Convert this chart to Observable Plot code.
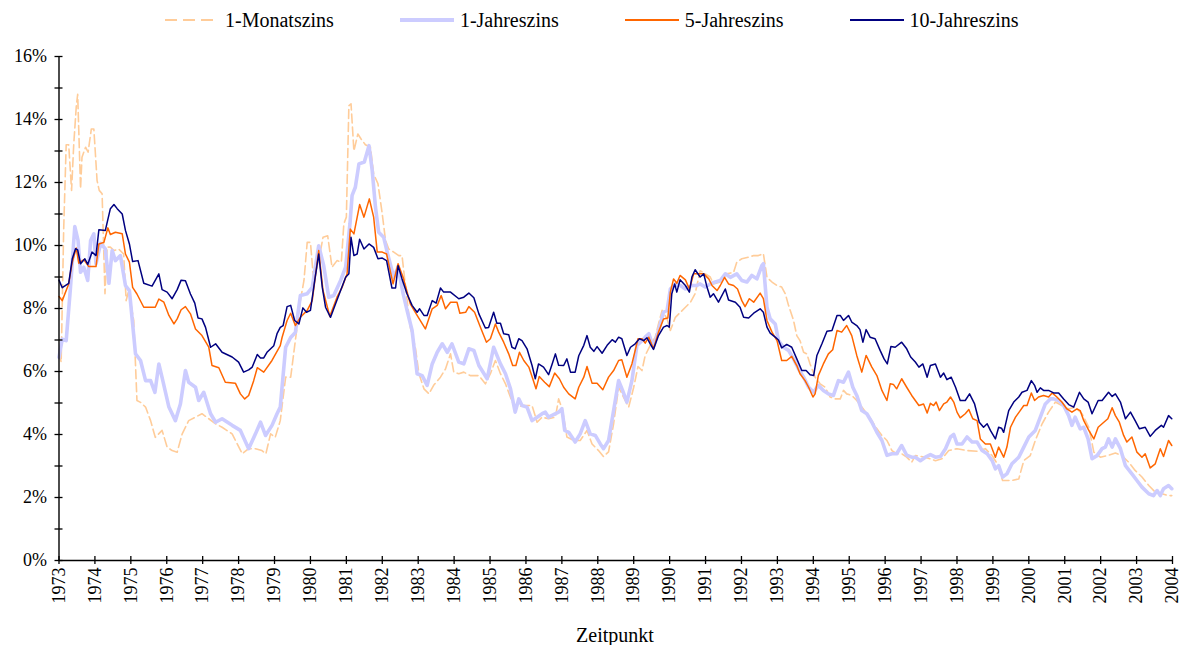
<!DOCTYPE html>
<html>
<head>
<meta charset="utf-8">
<script src="https://cdn.jsdelivr.net/npm/d3@7"></script>
<script src="https://cdn.jsdelivr.net/npm/@observablehq/plot@0.6"></script>
<style>
  html, body { margin: 0; padding: 0; background: #fff; }
  body { width: 1185px; height: 645px; overflow: hidden; font-family: "Liberation Serif", "Times New Roman", serif; color: #000; }
  #legend { height: 40px; display: flex; align-items: center; padding-left: 165px; gap: 66px; font-size: 20px; }
  .item { display: flex; align-items: center; gap: 6px; white-space: nowrap; }
  .item svg { display: block; }
  #xlabel { height: 40px; line-height: 40px; text-align: center; font-size: 20px; padding-left: 58px; padding-right: 13px; }
</style>
</head>
<body>
<div id="legend"></div>
<div id="chart"></div>
<div id="xlabel">Zeitpunkt</div>
<script>
// ---- data: [decimal year, percent] ----
const monat1 = [
[1973.0,6.6],[1973.06,6.3],[1973.13,10.5],[1973.2,13.2],[1973.27,13.2],[1973.35,11.75],[1973.41,13.2],[1973.48,14.4],[1973.52,14.8],[1973.6,11.8],[1973.64,12.8],[1973.74,13.12],[1973.81,12.96],[1973.9,13.7],[1973.97,13.7],[1974.06,12.06],[1974.12,11.75],[1974.2,11.64],[1974.28,8.47],[1974.34,9.95],[1974.43,9.95],[1974.53,9.84],[1974.66,9.89],[1974.8,9.73],[1974.87,8.25],[1974.94,8.57],[1975.08,7.62],[1975.17,5.08],[1975.27,5.02],[1975.41,4.87],[1975.55,4.44],[1975.68,3.91],[1975.87,4.13],[1976.01,3.6],[1976.15,3.49],[1976.29,3.44],[1976.43,4.02],[1976.61,4.44],[1976.8,4.55],[1976.98,4.66],[1977.17,4.5],[1977.36,4.34],[1977.54,4.23],[1977.82,4.02],[1978.1,3.39],[1978.28,3.55],[1978.47,3.55],[1978.65,3.49],[1978.76,3.39],[1978.89,4.02],[1979.02,3.91],[1979.16,4.44],
[1979.31,5.82],[1979.45,5.82],[1979.58,6.98],[1979.72,8.25],[1979.82,8.89],[1979.91,10.1],[1980.0,10.1],[1980.09,8.89],[1980.23,9.52],[1980.35,10.26],[1980.48,10.31],[1980.6,9.31],[1980.74,9.52],[1980.86,9.47],[1980.93,10.69],[1981.0,10.9],[1981.07,14.44],[1981.13,14.5],[1981.21,13.0],[1981.32,13.54],[1981.41,13.38],[1981.53,13.2],[1981.67,13.12],[1981.76,12.27],[1981.88,11.96],[1982.0,11.0],[1982.09,10.16],[1982.18,9.89],[1982.32,9.79],[1982.46,9.68],[1982.55,9.68],[1982.65,8.67],[1982.78,7.41],[1982.92,6.77],[1983.02,5.93],[1983.16,5.45],[1983.3,5.29],[1983.43,5.56],[1983.62,5.82],[1983.76,6.08],[1983.9,6.56],[1983.99,5.98],[1984.13,5.93],[1984.27,5.98],[1984.45,5.87],[1984.69,5.87],[1984.87,5.61],[1985.01,5.93],[1985.15,6.35],
[1985.29,5.93],[1985.43,5.61],[1985.57,5.18],[1985.7,4.82],[1985.89,4.92],[1986.03,4.92],[1986.17,4.92],[1986.31,4.39],[1986.45,4.55],[1986.63,4.5],[1986.82,4.55],[1986.91,5.13],[1987.02,4.76],[1987.14,3.92],[1987.33,3.81],[1987.51,3.81],[1987.7,4.13],[1987.84,3.7],[1988.02,3.49],[1988.16,3.3],[1988.3,3.45],[1988.44,4.34],[1988.58,5.5],[1988.72,5.18],[1988.86,4.87],[1989.0,5.5],[1989.12,6.16],[1989.23,6.03],[1989.32,6.51],[1989.46,6.83],[1989.6,7.09],[1989.69,7.51],[1989.79,7.94],[1989.93,7.67],[1990.02,7.3],[1990.16,7.72],[1990.3,7.88],[1990.44,8.04],[1990.58,8.2],[1990.71,8.47],[1990.85,9.2],[1990.99,9.1],[1991.13,9.0],
[1991.22,8.78],[1991.41,8.84],[1991.59,9.1],[1991.78,9.15],[1991.87,9.47],[1992.01,9.58],[1992.2,9.63],[1992.34,9.68],[1992.47,9.68],[1992.61,9.74],[1992.71,8.99],[1992.85,8.84],[1992.99,8.73],[1993.12,8.68],[1993.22,8.47],[1993.31,8.1],[1993.45,7.62],[1993.54,7.14],[1993.63,6.98],[1993.73,6.61],[1993.82,6.56],[1993.91,6.24],[1994.05,5.82],[1994.19,5.61],[1994.33,5.5],[1994.47,5.19],[1994.61,5.13],[1994.75,5.13],[1994.84,5.4],[1994.93,5.29],[1995.07,5.24],[1995.21,5.08],[1995.35,4.87],[1995.49,4.66],[1995.63,4.44],[1995.77,4.18],[1995.91,3.97],[1996.05,3.81],[1996.19,3.49],[1996.32,3.39],[1996.46,3.39],[1996.6,3.28],[1996.74,3.12],
[1996.84,3.33],[1997.12,3.28],[1997.4,3.17],[1997.58,3.23],[1997.77,3.49],[1998.0,3.55],[1998.28,3.49],[1998.56,3.47],[1998.79,3.55],[1998.98,3.33],[1999.12,3.07],[1999.27,2.54],[1999.53,2.54],[1999.72,2.59],[1999.86,3.17],[2000.04,3.33],[2000.18,3.81],[2000.37,4.34],[2000.55,4.71],[2000.74,5.03],[2000.92,4.92],[2001.11,4.81],[2001.29,4.87],[2001.48,4.66],[2001.67,4.23],[2001.81,3.44],[2001.99,3.28],[2002.18,3.33],[2002.41,3.41],[2002.59,3.33],[2002.78,3.12],[2002.96,2.86],[2003.15,2.65],[2003.34,2.38],[2003.52,2.17],[2003.71,2.12],[2003.89,2.06],[2003.98,2.06]
];
const jahr1 = [
[1973.0,6.45],[1973.09,7.03],[1973.2,6.98],[1973.32,8.67],[1973.44,10.6],[1973.53,10.16],[1973.6,9.15],[1973.69,9.31],[1973.8,8.89],[1973.88,10.16],[1973.97,10.37],[1974.03,9.42],[1974.16,10.07],[1974.29,9.89],[1974.39,8.8],[1974.48,9.84],[1974.57,9.52],[1974.71,9.68],[1974.85,8.73],[1974.96,8.57],[1975.13,6.56],[1975.27,6.35],[1975.41,5.71],[1975.55,5.71],[1975.67,5.34],[1975.78,6.24],[1975.89,5.71],[1976.06,4.87],[1976.24,4.44],[1976.38,4.97],[1976.52,6.03],[1976.61,5.66],[1976.8,5.5],[1976.89,5.08],[1977.03,5.34],[1977.22,4.66],[1977.36,4.39],[1977.54,4.5],[1977.82,4.29],[1978.05,4.13],[1978.28,3.55],[1978.47,4.02],[1978.61,4.39],[1978.75,3.97],[1978.93,4.29],[1979.07,4.66],[1979.16,4.87],
[1979.31,6.77],[1979.45,7.08],[1979.58,7.24],[1979.72,8.41],[1979.91,8.47],[1980.05,8.67],[1980.23,9.99],[1980.37,9.36],[1980.51,8.36],[1980.65,8.41],[1980.84,8.89],[1980.98,9.31],[1981.1,10.69],[1981.16,11.59],[1981.25,11.85],[1981.35,12.59],[1981.5,12.65],[1981.63,13.17],[1981.72,12.38],[1981.81,11.22],[1981.9,10.42],[1982.04,10.26],[1982.15,9.73],[1982.32,8.99],[1982.44,9.31],[1982.58,8.47],[1982.69,7.94],[1982.83,7.3],[1982.97,5.93],[1983.11,5.87],[1983.25,5.56],[1983.39,6.24],[1983.53,6.61],[1983.67,6.88],[1983.81,6.61],[1983.94,6.88],[1984.13,6.3],[1984.27,6.24],[1984.41,6.72],[1984.55,6.67],[1984.69,6.19],[1984.92,5.77],[1985.1,6.77],
[1985.29,6.24],[1985.43,5.93],[1985.57,5.45],[1985.7,4.71],[1985.8,5.13],[1985.89,4.92],[1986.03,4.87],[1986.17,4.44],[1986.31,4.55],[1986.45,4.66],[1986.54,4.71],[1986.63,4.55],[1986.77,4.63],[1986.91,4.71],[1987.0,4.82],[1987.08,4.13],[1987.19,4.07],[1987.37,3.76],[1987.51,4.02],[1987.65,4.44],[1987.79,4.02],[1987.93,3.97],[1988.07,3.7],[1988.16,3.55],[1988.3,3.81],[1988.44,4.76],[1988.58,5.71],[1988.69,5.4],[1988.81,5.03],[1988.95,5.71],[1989.09,6.83],[1989.23,6.98],[1989.32,7.09],[1989.42,7.2],[1989.55,6.77],[1989.69,7.3],[1989.83,7.88],[1989.93,7.94],[1990.02,8.62],[1990.16,8.78],[1990.3,8.73],[1990.44,8.62],[1990.62,8.73],[1990.76,8.73],[1990.85,8.78],[1990.99,8.68],[1991.13,8.78],
[1991.27,8.84],[1991.41,8.89],[1991.55,9.1],[1991.69,8.99],[1991.87,9.1],[1992.01,8.89],[1992.15,8.84],[1992.29,9.05],[1992.43,8.94],[1992.57,9.37],[1992.61,9.42],[1992.71,8.04],[1992.8,7.67],[1992.94,7.51],[1993.03,6.98],[1993.17,6.77],[1993.31,6.67],[1993.45,6.4],[1993.59,6.08],[1993.73,5.82],[1993.87,5.5],[1994.01,5.34],[1994.14,5.56],[1994.28,5.4],[1994.42,5.29],[1994.56,5.24],[1994.7,5.71],[1994.84,5.66],[1994.98,5.98],[1995.1,5.5],[1995.21,5.24],[1995.35,4.76],[1995.49,4.66],[1995.63,4.39],[1995.77,4.07],[1995.91,3.81],[1996.05,3.34],[1996.19,3.39],[1996.32,3.39],[1996.46,3.65],[1996.6,3.34],[1996.74,3.28],
[1996.84,3.28],[1996.98,3.17],[1997.12,3.28],[1997.26,3.36],[1997.4,3.28],[1997.54,3.3],[1997.68,3.55],[1997.82,3.92],[1997.91,4.0],[1998.0,3.7],[1998.14,3.7],[1998.28,3.92],[1998.42,3.76],[1998.56,3.76],[1998.7,3.49],[1998.84,3.39],[1998.98,3.17],[1999.07,2.91],[1999.16,3.01],[1999.27,2.65],[1999.39,2.75],[1999.53,3.07],[1999.72,3.28],[1999.86,3.6],[2000.0,3.92],[2000.18,4.13],[2000.32,4.55],[2000.46,4.97],[2000.6,5.13],[2000.69,5.13],[2000.83,5.08],[2000.97,4.92],[2001.11,4.6],[2001.2,4.29],[2001.29,4.55],[2001.43,4.18],[2001.53,4.23],[2001.65,3.86],[2001.76,3.23],[2001.9,3.33],[2002.04,3.55],[2002.13,3.6],[2002.22,3.86],[2002.32,3.6],[2002.41,3.86],[2002.55,3.55],[2002.69,3.01],[2002.87,2.75],[2003.01,2.54],[2003.15,2.33],[2003.34,2.12],[2003.47,2.06],[2003.57,2.22],[2003.66,2.06],[2003.75,2.28],[2003.89,2.38],[2003.98,2.28]
];
const jahr5 = [
[1973.0,8.38],[1973.09,8.25],[1973.27,8.78],[1973.37,9.47],[1973.48,9.92],[1973.55,9.44],[1973.69,9.55],[1973.83,9.33],[1974.03,9.33],[1974.11,10.05],[1974.25,10.1],[1974.36,10.56],[1974.43,10.35],[1974.57,10.42],[1974.76,10.37],[1974.85,9.73],[1974.96,9.47],[1975.05,8.67],[1975.17,8.46],[1975.36,8.04],[1975.68,8.04],[1975.78,8.3],[1975.92,8.2],[1976.06,7.78],[1976.2,7.51],[1976.29,7.67],[1976.4,7.96],[1976.52,8.06],[1976.66,7.83],[1976.8,7.35],[1976.98,7.14],[1977.17,6.77],[1977.26,6.19],[1977.45,6.12],[1977.63,5.66],[1977.91,5.63],[1978.05,5.29],[1978.17,5.13],[1978.28,5.24],[1978.42,5.71],[1978.52,6.12],[1978.7,5.98],[1978.93,6.35],[1979.16,6.82],
[1979.21,7.08],[1979.35,7.62],[1979.45,7.85],[1979.58,7.46],[1979.72,7.72],[1979.91,7.94],[1980.05,8.25],[1980.23,9.84],[1980.35,8.57],[1980.54,7.75],[1980.74,8.36],[1980.88,8.67],[1981.02,9.1],[1981.11,10.52],[1981.21,10.37],[1981.37,11.3],[1981.49,10.9],[1981.64,11.48],[1981.76,10.9],[1981.86,9.79],[1982.0,9.79],[1982.12,9.73],[1982.3,8.78],[1982.44,9.42],[1982.58,8.99],[1982.78,8.15],[1982.97,7.78],[1983.2,7.35],[1983.39,7.99],[1983.53,8.1],[1983.64,8.41],[1983.76,7.99],[1983.9,8.2],[1984.08,8.2],[1984.16,7.85],[1984.32,7.88],[1984.41,8.06],[1984.57,7.88],[1984.73,7.41],[1984.9,6.93],[1985.01,7.04],[1985.15,7.51],
[1985.24,7.25],[1985.38,6.93],[1985.52,6.56],[1985.63,6.19],[1985.72,6.19],[1985.82,6.61],[1985.94,6.35],[1986.08,6.14],[1986.19,5.77],[1986.28,5.45],[1986.37,5.84],[1986.52,5.66],[1986.65,5.52],[1986.8,5.95],[1986.93,5.77],[1987.05,5.5],[1987.19,5.29],[1987.37,5.13],[1987.47,5.5],[1987.61,5.82],[1987.7,6.16],[1987.84,5.63],[1987.98,5.63],[1988.14,5.42],[1988.3,5.82],[1988.44,6.03],[1988.58,6.35],[1988.67,6.37],[1988.81,5.82],[1988.95,6.24],[1989.12,7.04],[1989.23,7.04],[1989.32,6.9],[1989.42,7.09],[1989.55,6.72],[1989.69,7.25],[1989.83,7.67],[1989.95,7.7],[1990.02,8.52],[1990.11,8.94],[1990.2,8.8],[1990.29,9.05],[1990.44,8.91],[1990.55,8.62],[1990.67,9.1],[1990.81,9.1],[1990.95,9.1],[1991.09,8.94],
[1991.18,8.73],[1991.32,8.57],[1991.41,8.73],[1991.53,8.99],[1991.64,8.78],[1991.78,8.73],[1991.89,8.62],[1992.01,8.25],[1992.1,8.06],[1992.22,8.31],[1992.34,8.2],[1992.52,8.49],[1992.61,8.31],[1992.71,7.62],[1992.85,7.25],[1992.99,6.98],[1993.12,6.35],[1993.26,6.35],[1993.4,6.48],[1993.54,6.19],[1993.63,5.93],[1993.77,5.71],[1993.87,5.5],[1993.99,5.19],[1994.05,5.29],[1994.14,5.87],[1994.28,6.24],[1994.42,6.56],[1994.54,6.69],[1994.66,7.3],[1994.79,7.25],[1994.93,7.46],[1995.07,7.14],[1995.21,6.51],[1995.35,5.98],[1995.47,6.51],[1995.63,6.14],[1995.77,5.87],[1995.91,5.4],[1996.05,5.08],[1996.14,5.61],[1996.23,5.59],[1996.32,5.45],[1996.46,5.77],[1996.6,5.5],[1996.74,5.24],
[1996.84,5.08],[1996.94,4.92],[1997.07,4.97],[1997.17,4.68],[1997.26,4.99],[1997.35,4.92],[1997.42,5.03],[1997.51,4.76],[1997.63,4.97],[1997.72,5.03],[1997.82,5.19],[1997.91,5.03],[1998.0,4.71],[1998.09,4.53],[1998.23,4.66],[1998.33,4.79],[1998.44,4.5],[1998.56,4.44],[1998.65,3.86],[1998.79,3.7],[1998.93,3.7],[1999.07,3.28],[1999.16,3.6],[1999.3,3.28],[1999.39,3.6],[1999.49,4.23],[1999.63,4.55],[1999.76,4.76],[1999.86,4.92],[1999.95,4.92],[2000.07,5.32],[2000.16,5.08],[2000.27,5.19],[2000.41,5.24],[2000.55,5.19],[2000.65,5.32],[2000.78,5.19],[2000.92,5.03],[2001.06,4.81],[2001.2,4.71],[2001.34,4.81],[2001.43,4.76],[2001.53,4.44],[2001.67,4.13],[2001.81,3.86],[2001.93,4.23],[2002.04,4.34],[2002.2,4.5],[2002.32,4.85],[2002.41,4.6],[2002.52,4.39],[2002.64,3.97],[2002.73,3.76],[2002.87,3.92],[2003.01,3.44],[2003.15,3.28],[2003.24,3.39],[2003.38,2.94],[2003.52,3.07],[2003.66,3.55],[2003.75,3.3],[2003.89,3.81],[2003.98,3.65]
];
const jahr10 = [
[1973.0,8.9],[1973.09,8.66],[1973.27,8.8],[1973.37,9.58],[1973.46,9.9],[1973.52,9.86],[1973.6,9.42],[1973.72,9.58],[1973.8,9.4],[1973.92,9.79],[1974.03,9.68],[1974.11,10.5],[1974.29,10.48],[1974.43,11.17],[1974.53,11.3],[1974.62,11.17],[1974.76,11.0],[1974.85,10.48],[1974.96,10.05],[1975.05,9.49],[1975.2,9.52],[1975.36,8.8],[1975.59,8.71],[1975.78,9.1],[1975.87,8.6],[1976.01,8.52],[1976.15,8.31],[1976.29,8.6],[1976.4,8.9],[1976.52,8.88],[1976.66,8.46],[1976.78,8.17],[1976.87,7.7],[1976.98,7.67],[1977.08,7.4],[1977.22,6.77],[1977.36,6.88],[1977.54,6.61],[1977.82,6.46],[1978.0,6.3],[1978.14,5.98],[1978.28,6.05],[1978.38,6.14],[1978.52,6.54],[1978.61,6.43],[1978.7,6.43],[1978.79,6.61],[1978.98,6.82],[1979.07,7.2],[1979.16,7.4],
[1979.24,7.46],[1979.35,8.06],[1979.45,8.1],[1979.56,7.62],[1979.68,7.51],[1979.79,8.02],[1979.89,7.88],[1980.0,7.94],[1980.12,8.89],[1980.23,9.73],[1980.33,8.67],[1980.42,8.04],[1980.56,7.72],[1980.7,8.15],[1980.84,8.57],[1980.98,8.99],[1981.07,9.1],[1981.13,10.26],[1981.21,9.68],[1981.3,9.73],[1981.37,10.2],[1981.49,9.89],[1981.63,10.05],[1981.76,9.94],[1981.88,9.58],[1982.0,9.6],[1982.12,9.52],[1982.27,8.65],[1982.37,8.65],[1982.44,9.36],[1982.55,8.94],[1982.69,8.46],[1982.83,8.1],[1982.97,7.88],[1983.04,7.99],[1983.16,7.78],[1983.25,7.78],[1983.39,8.25],[1983.5,8.17],[1983.62,8.65],[1983.71,8.52],[1983.9,8.52],[1984.13,8.31],[1984.27,8.36],[1984.41,8.49],[1984.55,8.34],[1984.69,7.83],[1984.87,7.38],[1984.96,7.4],[1985.1,7.88],
[1985.19,7.53],[1985.29,7.53],[1985.38,7.2],[1985.52,7.17],[1985.61,6.77],[1985.7,6.72],[1985.8,7.04],[1985.89,6.98],[1986.03,6.72],[1986.17,6.19],[1986.26,5.77],[1986.35,6.24],[1986.49,6.14],[1986.63,5.9],[1986.73,6.24],[1986.82,6.56],[1986.91,6.2],[1987.05,6.19],[1987.14,6.4],[1987.24,5.98],[1987.37,5.98],[1987.47,6.5],[1987.61,6.83],[1987.7,7.14],[1987.79,6.77],[1987.89,6.64],[1987.98,6.79],[1988.12,6.58],[1988.26,6.83],[1988.4,7.01],[1988.49,6.93],[1988.58,7.09],[1988.67,7.04],[1988.81,6.51],[1988.91,6.77],[1989.04,6.88],[1989.16,7.04],[1989.28,6.98],[1989.37,7.07],[1989.46,6.88],[1989.55,6.7],[1989.69,7.14],[1989.83,7.41],[1989.93,7.46],[1989.99,7.41],[1990.06,8.47],[1990.14,8.78],[1990.2,8.52],[1990.29,8.91],[1990.44,8.73],[1990.55,8.52],[1990.62,9.0],[1990.71,9.23],[1990.85,9.0],[1990.95,9.1],[1991.04,8.68],[1991.13,8.36],
[1991.22,8.47],[1991.36,8.2],[1991.55,8.62],[1991.64,8.27],[1991.83,8.2],[1991.96,8.04],[1992.06,7.72],[1992.2,7.7],[1992.34,7.85],[1992.52,7.99],[1992.61,7.88],[1992.71,7.41],[1992.8,7.22],[1992.94,7.09],[1993.03,7.0],[1993.12,6.75],[1993.26,6.86],[1993.4,6.77],[1993.54,6.4],[1993.68,6.03],[1993.8,6.03],[1993.91,5.9],[1994.01,5.87],[1994.1,6.51],[1994.24,6.88],[1994.38,7.28],[1994.52,7.3],[1994.66,7.78],[1994.75,7.78],[1994.84,7.62],[1994.98,7.78],[1995.07,7.57],[1995.21,7.46],[1995.3,7.33],[1995.38,6.93],[1995.47,7.33],[1995.58,7.09],[1995.72,7.04],[1995.86,6.67],[1995.97,6.4],[1996.06,6.24],[1996.16,6.79],[1996.28,6.77],[1996.46,6.93],[1996.6,6.72],[1996.71,6.46],
[1996.84,6.3],[1996.94,6.14],[1997.05,6.24],[1997.17,5.82],[1997.26,6.19],[1997.4,6.24],[1997.54,5.82],[1997.63,5.95],[1997.72,5.74],[1997.84,5.82],[1997.96,5.5],[1998.09,5.08],[1998.23,5.08],[1998.35,5.29],[1998.49,4.97],[1998.62,4.39],[1998.74,4.23],[1998.84,4.34],[1998.93,4.13],[1999.07,3.86],[1999.16,4.23],[1999.24,4.2],[1999.3,4.07],[1999.44,4.76],[1999.58,5.03],[1999.72,5.19],[1999.81,5.34],[1999.95,5.4],[2000.07,5.71],[2000.16,5.56],[2000.23,5.34],[2000.32,5.48],[2000.41,5.4],[2000.55,5.4],[2000.69,5.32],[2000.83,5.32],[2000.97,5.13],[2001.11,4.95],[2001.25,4.87],[2001.41,5.34],[2001.53,5.13],[2001.65,5.03],[2001.76,4.66],[2001.93,5.08],[2002.04,5.08],[2002.22,5.34],[2002.32,5.21],[2002.41,5.29],[2002.55,5.03],[2002.69,4.5],[2002.83,4.71],[2002.96,4.44],[2003.08,4.18],[2003.24,4.23],[2003.38,3.94],[2003.52,4.13],[2003.69,4.29],[2003.75,4.23],[2003.89,4.6],[2003.98,4.5]
];
const yearTicks = d3.range(1973, 2005);
const pctTicks = d3.range(0, 17, 1);
const pctLabels = d3.range(0, 17, 2);
const seriesNames = ["1-Monatszins", "1-Jahreszins", "5-Jahreszins", "10-Jahreszins"];

// ---- styles ----
const styles = {
  "1-Monatszins": { stroke: "#FFCC99", strokeWidth: 1.6, dash: "9,4" },
  "1-Jahreszins": { stroke: "#CCCCFF", strokeWidth: 3.6, dash: null },
  "5-Jahreszins": { stroke: "#FF6600", strokeWidth: 1.5, dash: null },
  "10-Jahreszins": { stroke: "#000080", strokeWidth: 1.5, dash: null }
};
const seriesData = [monat1, jahr1, jahr5, jahr10];

// legend
const legend = document.getElementById("legend");
seriesNames.forEach((name) => {
  const s = styles[name];
  const item = document.createElement("div");
  item.className = "item";
  item.innerHTML = `<svg width="54" height="10"><line x1="0" y1="5" x2="54" y2="5" stroke="${s.stroke}" stroke-width="${Math.min(s.strokeWidth + 0.6, 4)}" ${s.dash ? 'stroke-dasharray="12,6"' : ''}/></svg><span>${name}</span>`;
  legend.appendChild(item);
});

const lineMarks = seriesNames.map((name, i) => {
  const s = styles[name];
  return Plot.line(seriesData[i], {
    x: (d) => d[0], y: (d) => d[1],
    stroke: s.stroke, strokeWidth: s.strokeWidth,
    strokeDasharray: s.dash ?? undefined,
    strokeLinejoin: "round"
  });
});

const chart = Plot.plot({
  width: 1185,
  height: 575,
  marginLeft: 58.5,
  marginRight: 13,
  marginTop: 16,
  marginBottom: 55,
  style: { fontFamily: "Liberation Serif, Times New Roman, serif", fontSize: "18px", background: "#fff", color: "#000", overflow: "visible" },
  x: { domain: [1973, 2004], label: null },
  y: { domain: [0, 16], label: null },
  marks: [
    ...lineMarks,
    Plot.ruleX([1973], { stroke: "#000", strokeWidth: 1.4 }),
    Plot.ruleY([0], { stroke: "#000", strokeWidth: 1.4 }),
    Plot.axisY(pctTicks, { tickSize: 8, dx: 4, fill: "none", stroke: "#000", strokeWidth: 1.3, label: null }),
    Plot.axisY(pctLabels, { tickSize: 0, tickPadding: 12, tickFormat: (d) => d + "%", fill: "#000", fontSize: 18, label: null }),
    Plot.axisX(yearTicks, { tickSize: 8, dy: -4, fill: "none", stroke: "#000", strokeWidth: 1.3, label: null }),
    Plot.axisX(yearTicks, { tickSize: 0, tickPadding: 7, tickRotate: -90, tickFormat: (d) => String(d), fill: "#000", fontSize: 18, label: null })
  ]
});
document.getElementById("chart").appendChild(chart);
</script>
</body>
</html>
